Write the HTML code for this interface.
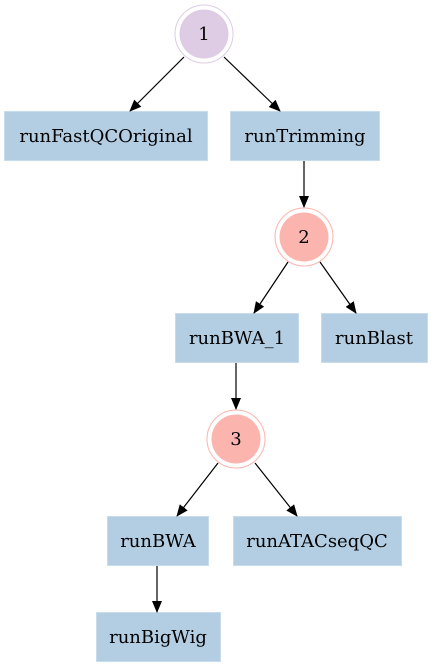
<!DOCTYPE html>
<html><head><style>html,body{margin:0;padding:0;background:#fff}</style></head><body>
<svg width="431" height="667" viewBox="0 0 431 667" xmlns="http://www.w3.org/2000/svg" font-family="DejaVu Serif, serif" font-size="18">
<defs><marker id="a" markerWidth="12" markerHeight="10" refX="11" refY="5" orient="auto" markerUnits="userSpaceOnUse"><path d="M0,0 L12,5 L0,10z" fill="#000"/></marker></defs>
<g fill="#b3cde3" stroke="#c9dcec">
<rect x="4.5" y="111.5" width="203" height="49"/>
<rect x="230.5" y="111.5" width="149" height="49"/>
<rect x="175.5" y="313.5" width="123" height="49"/>
<rect x="321.5" y="313.5" width="106" height="49"/>
<rect x="107.5" y="516.5" width="101" height="49"/>
<rect x="233.5" y="516.5" width="168" height="49"/>
<rect x="96.5" y="612.5" width="124" height="49"/>
</g>
<circle cx="204" cy="34" r="29" fill="none" stroke="#decbe4"/><circle cx="204" cy="34" r="24.5" fill="#decbe4"/>
<circle cx="304" cy="237" r="29" fill="none" stroke="#fbb4ae"/><circle cx="304" cy="237" r="24.5" fill="#fbb4ae"/>
<circle cx="236" cy="439" r="29" fill="none" stroke="#fbb4ae"/><circle cx="236" cy="439" r="24.5" fill="#fbb4ae"/>
<g stroke="#000" stroke-width="1.2" marker-end="url(#a)">
<line x1="184" y1="57" x2="130" y2="111"/>
<line x1="224" y1="57" x2="280" y2="111"/>
<line x1="304" y1="161" x2="304" y2="207"/>
<line x1="288" y1="262" x2="254" y2="313"/>
<line x1="320" y1="262" x2="356" y2="313"/>
<line x1="236" y1="363" x2="236" y2="409"/>
<line x1="218" y1="463" x2="177" y2="516"/>
<line x1="255" y1="463" x2="297" y2="516"/>
<line x1="157" y1="566" x2="157" y2="612"/>
</g>
<g text-anchor="middle">
<text x="204" y="40">1</text><text x="304" y="243">2</text><text x="236" y="445">3</text>
<text x="106" y="142">runFastQCOriginal</text>
<text x="305" y="142">runTrimming</text>
<text x="237" y="344">runBWA_1</text>
<text x="374" y="344">runBlast</text>
<text x="158" y="547">runBWA</text>
<text x="317" y="547">runATACseqQC</text>
<text x="158" y="643">runBigWig</text>
</g>
</svg>
</body></html>
